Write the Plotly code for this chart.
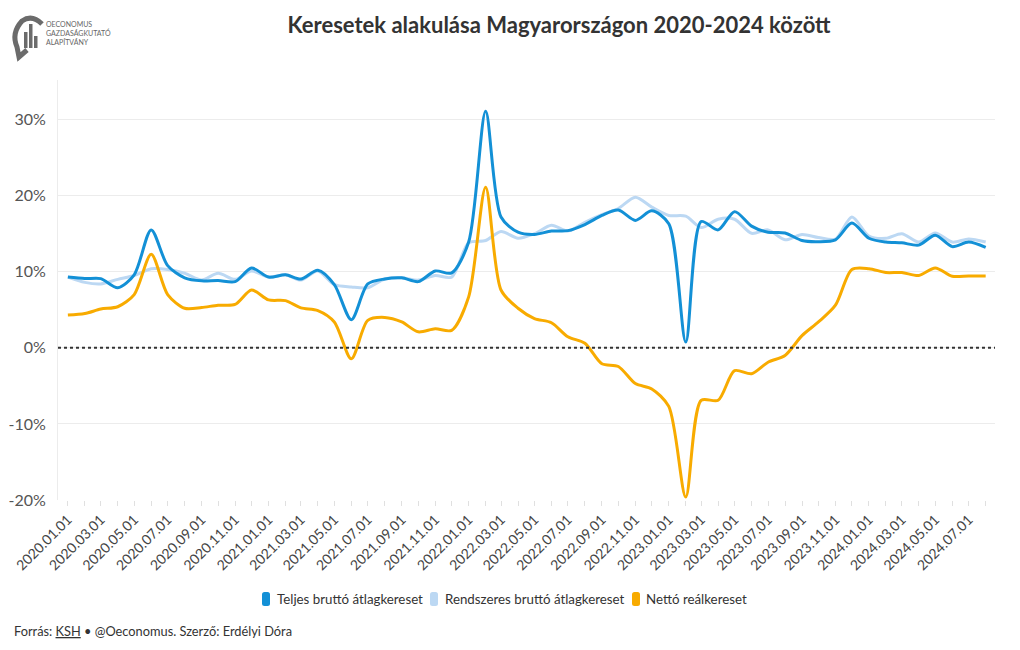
import pandas as pd
import plotly.graph_objects as go

# ---- data (yearly change, %) ----
dates = pd.date_range("2020-01-01", "2024-08-01", freq="MS")

teljes = [9.3, 9.1, 9.1, 7.9, 9.6, 15.5, 10.8, 9.2, 8.8, 8.85, 8.7, 10.5,
          9.3, 9.6, 9.05, 10.2, 8.3, 3.7, 8.4, 9.05, 9.2, 8.7, 10.1, 9.85,
          13.9, 31.1, 17.2, 15.2, 14.9, 15.35, 15.4, 16.2, 17.4, 18.1, 16.75, 18.0,
          16.3, 0.75, 16.6, 15.5, 17.9, 16.0, 15.2, 15.1, 14.1, 13.95, 14.2, 16.4,
          14.4, 13.9, 13.8, 13.5, 14.8, 13.3, 13.9, 13.2]

rendszeres = [9.3, 8.6, 8.4, 9.0, 9.5, 10.4, 10.3, 9.8, 8.9, 9.8, 9.0, 10.1,
              9.3, 9.6, 8.9, 10.1, 8.3, 8.0, 7.9, 9.05, 9.2, 8.9, 9.5, 9.3,
              13.8, 14.1, 15.3, 14.4, 15.0, 16.1, 15.35, 16.5, 17.5, 18.3, 19.8, 18.5,
              17.4, 17.3, 15.8, 16.9, 16.9, 15.05, 15.5, 14.2, 14.9, 14.5, 14.3, 17.2,
              14.7, 14.4, 15.0, 13.9, 15.1, 13.9, 14.3, 13.9]

netto_real = [4.3, 4.5, 5.1, 5.4, 7.0, 12.3, 7.0, 5.2, 5.3, 5.6, 5.7, 7.6,
              6.3, 6.2, 5.25, 4.9, 3.4, -1.45, 3.6, 4.0, 3.4, 2.1, 2.5, 2.3,
              6.7, 21.1, 7.6, 5.2, 3.85, 3.3, 1.45, 0.6, -2.1, -2.45, -4.7, -5.4,
              -7.7, -19.6, -6.9, -6.9, -3.0, -3.4, -1.9, -1.0, 1.6, 3.4, 5.6, 10.3,
              10.4, 9.9, 9.9, 9.5, 10.5, 9.4, 9.45, 9.45]

series_names = ["Teljes bruttó átlagkereset", "Rendszeres bruttó átlagkereset", "Nettó reálkereset"]
series_colors = ["#1390d6", "#bcd8f3", "#f8ab00"]
y_ticks = [-20, -10, 0, 10, 20, 30]

FONT = "Lato"

fig = go.Figure()

# draw order: light blue under dark blue, orange on top
order = [1, 0, 2]
all_vals = [teljes, rendszeres, netto_real]
for i in order:
    fig.add_trace(go.Scatter(
        x=dates, y=all_vals[i], mode="lines", name=series_names[i],
        line=dict(color=series_colors[i], width=3, shape="spline", smoothing=0.8),
        showlegend=False, hoverinfo="skip"))

# dotted zero line
fig.add_shape(type="line", xref="paper", x0=0, x1=1, yref="y", y0=0, y1=0,
              line=dict(color="#333333", width=2, dash="dot"))

# page-pixel -> paper helpers (plot area in page pixels)
L, W, T, H = 58, 937, 80, 420
def px(x):
    return (x - L) / W
def py(y):
    return (T + H - y) / H

def rounded_rect(x0, y0, x1, y1, r):
    return (f"M {px(x0 + r)} {py(y0)} L {px(x1 - r)} {py(y0)} "
            f"Q {px(x1)} {py(y0)} {px(x1)} {py(y0 + r)} L {px(x1)} {py(y1 - r)} "
            f"Q {px(x1)} {py(y1)} {px(x1 - r)} {py(y1)} L {px(x0 + r)} {py(y1)} "
            f"Q {px(x0)} {py(y1)} {px(x0)} {py(y1 - r)} L {px(x0)} {py(y0 + r)} "
            f"Q {px(x0)} {py(y0)} {px(x0 + r)} {py(y0)} Z")

# custom legend
legend_swatch_x = [262, 430, 632]
legend_text_x = [275, 443, 644]
for i in range(3):
    sx = legend_swatch_x[i]
    fig.add_shape(type="path", xref="paper", yref="paper",
                  path=rounded_rect(sx, 592, sx + 8, 606, 2.5),
                  line=dict(width=0), fillcolor=series_colors[i])
    fig.add_annotation(xref="paper", yref="paper", x=px(legend_text_x[i]), y=py(599),
                       xanchor="left", yanchor="middle", showarrow=False,
                       text=series_names[i],
                       font=dict(family=FONT, size=13.3, color="#333333"))

# logo (simple approximation)
fig.add_shape(type="path", xref="paper", yref="paper",
              path=(f"M {px(42)} {py(24)} Q {px(32)} {py(14)} {px(22)} {py(21)} "
                    f"Q {px(11)} {py(33)} {px(17)} {py(47)} L {px(19)} {py(57)} L {px(27)} {py(50)}"),
              line=dict(color="#6b6b6b", width=5), fillcolor="rgba(0,0,0,0)")
for bx, btop in [(24, 32), (29, 24), (34, 36)]:
    fig.add_shape(type="rect", xref="paper", yref="paper",
                  x0=px(bx), x1=px(bx + 3.5), y0=py(48), y1=py(btop),
                  line=dict(width=0), fillcolor="#6b6b6b")
fig.add_annotation(xref="paper", yref="paper", x=px(44), y=py(33),
                   xanchor="left", yanchor="middle", showarrow=False, align="left",
                   text="OECONOMUS<br>GAZDASÁGKUTATÓ<br>ALAPÍTVÁNY",
                   font=dict(family=FONT, size=7, color="#666666"))

# footer
fig.add_annotation(xref="paper", yref="paper", x=px(12), y=py(631),
                   xanchor="left", yanchor="middle", showarrow=False,
                   text="Forrás: <u>KSH</u> • @Oeconomus. Szerző: Erdélyi Dóra",
                   font=dict(family=FONT, size=12.8, color="#333333"))

# page has an 8px body margin: figure sized/placed so plot area lands at page (58,80)-(995,500)
fig.update_layout(
    width=1012, height=642,
    margin=dict(l=50, r=25, t=72, b=150, autoexpand=False),
    paper_bgcolor="white", plot_bgcolor="white",
    title=dict(text="<b>Keresetek alakulása Magyarországon 2020-2024 között</b>",
               x=0.5445, xanchor="center", y=0.9735, yanchor="middle",
               font=dict(family=FONT, size=22, color="#333333")),
    font=dict(family=FONT, color="#444444"),
    showlegend=False,
)

fig.update_xaxes(
    type="date",
    range=["2019-12-14", "2024-08-18"],
    tick0="2020-01-01", dtick="M2", tickformat="%Y.%m.%d",
    tickangle=-45, tickfont=dict(family=FONT, size=14, color="#444444"),
    ticks="outside", ticklen=5, tickcolor="#e0e0e0",
    minor=dict(dtick="M1", ticks="outside", ticklen=5, tickcolor="#e0e0e0"),
    showgrid=False, showline=False, zeroline=False, automargin=False,
)

fig.update_yaxes(
    range=[-20, 35.2], tickvals=y_ticks, ticktext=[f"{v}%" for v in y_ticks],
    tickfont=dict(family=FONT, size=16, color="#555555"),
    showgrid=True, gridcolor="#ececec", gridwidth=1,
    showline=True, linecolor="#ececec", linewidth=1,
    zeroline=False, ticks="", ticklabelstandoff=8, automargin=False,
)

fig.write_html("out.html")
